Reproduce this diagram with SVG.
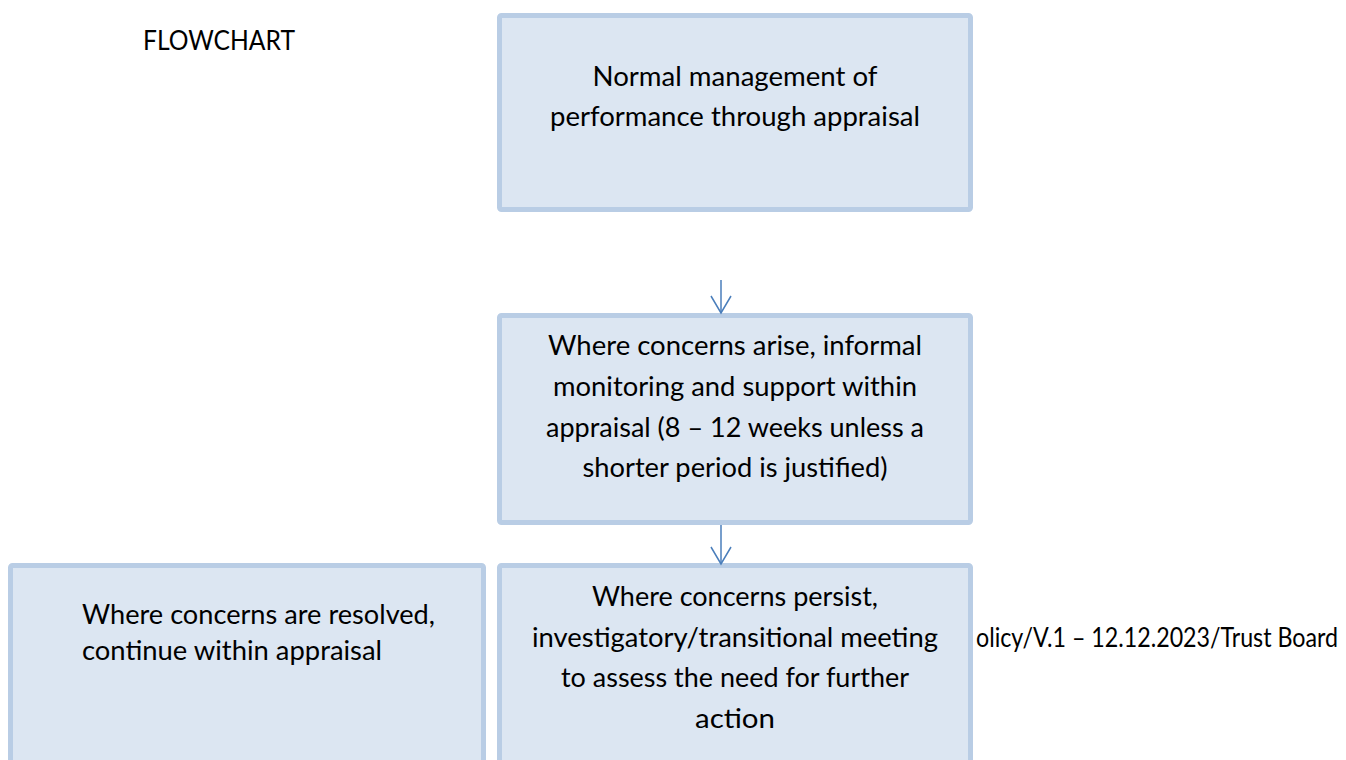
<svg xmlns="http://www.w3.org/2000/svg" width="1346" height="760" viewBox="0 0 1346 760">
<style>
.box{fill:#DCE6F2;stroke:#B9CDE5;stroke-width:5}
.t{font-family:Lato,"Open Sans","Liberation Sans",sans-serif;font-size:27px;fill:#000}
.c{text-anchor:middle}
.conn{stroke:#4A7EBB;stroke-width:1.5;fill:none}
</style>
<defs>
<marker id="arr" markerUnits="userSpaceOnUse" markerWidth="20" markerHeight="22" refX="18" refY="11" orient="auto" viewBox="0 0 20 22">
<path d="M1,1 L18,11 L1,21" fill="none" stroke="#4A7EBB" stroke-width="1.5"/>
</marker>
</defs>
<rect width="1346" height="760" fill="#fff"/>
<text id="title" class="t" x="143" y="50" textLength="152" lengthAdjust="spacingAndGlyphs">FLOWCHART</text>
<text id="footer" class="t" x="976" y="647" style="font-size:26px" textLength="362" lengthAdjust="spacingAndGlyphs">olicy/V.1 – 12.12.2023/Trust Board</text>
<g id="n1">
<rect class="box" x="499.5" y="15.5" width="471" height="194" rx="2"/>
<text class="t c" x="735" y="86" textLength="285" lengthAdjust="spacingAndGlyphs">Normal management of</text>
<text class="t c" x="735" y="126" textLength="370" lengthAdjust="spacingAndGlyphs">performance through appraisal</text>
</g>
<g id="n2">
<rect class="box" x="499.5" y="315.5" width="471" height="207" rx="2"/>
<text class="t c" x="735" y="355" textLength="374" lengthAdjust="spacingAndGlyphs">Where concerns arise, informal</text>
<text class="t c" x="735" y="396" textLength="364" lengthAdjust="spacingAndGlyphs">monitoring and support within</text>
<text class="t c" x="735" y="437" textLength="378" lengthAdjust="spacingAndGlyphs">appraisal (8 – 12 weeks unless a</text>
<text class="t c" x="735" y="477" textLength="305" lengthAdjust="spacingAndGlyphs">shorter period is justified)</text>
</g>
<g id="n3">
<rect class="box" x="10.5" y="565.5" width="473" height="260" rx="2"/>
<text class="t" x="82" y="624" textLength="353" lengthAdjust="spacingAndGlyphs">Where concerns are resolved,</text>
<text class="t" x="82" y="660" textLength="300" lengthAdjust="spacingAndGlyphs">continue within appraisal</text>
</g>
<g id="n4">
<rect class="box" x="499.5" y="565.5" width="471" height="260" rx="2"/>
<text class="t c" x="735" y="606" textLength="286" lengthAdjust="spacingAndGlyphs">Where concerns persist,</text>
<text class="t c" x="735" y="647" textLength="406" lengthAdjust="spacingAndGlyphs">investigatory/transitional meeting</text>
<text class="t c" x="735" y="687" textLength="348" lengthAdjust="spacingAndGlyphs">to assess the need for further</text>
<text class="t c" x="735" y="728" textLength="80" lengthAdjust="spacingAndGlyphs">action</text>
</g>
<g id="connectors">
<line class="conn" x1="721" y1="280" x2="721" y2="313" marker-end="url(#arr)"/>
<line class="conn" x1="721" y1="525" x2="721" y2="564" marker-end="url(#arr)"/>
</g>
</svg>
